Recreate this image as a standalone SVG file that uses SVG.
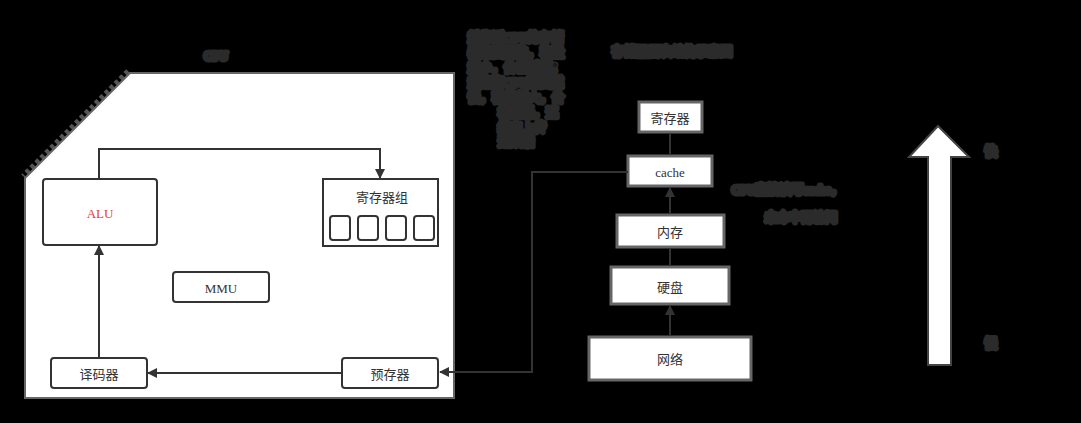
<svg xmlns="http://www.w3.org/2000/svg" width="1081" height="423" viewBox="0 0 1081 423">
<defs>
<style>
.t{font-family:"Liberation Serif","Noto Sans CJK SC",serif;font-size:13px;fill:#333;text-anchor:middle;dominant-baseline:central}
.box{fill:#fff;stroke:#333;stroke-width:2}
.sbox{fill:#fff;stroke:#666;stroke-width:3}
.ln{fill:none;stroke:#333;stroke-width:2}
.dim{font-family:"Liberation Serif","Noto Sans CJK SC",serif;font-size:12px;fill:#2b2b2b;stroke:#2b2b2b;stroke-width:5;stroke-linejoin:round}
</style>
<marker id="ah" viewBox="0 0 10 10" refX="9" refY="5" markerWidth="5" markerHeight="5" orient="auto">
<path d="M0,0 L10,5 L0,10 z" fill="#333"/>
</marker>
</defs>
<rect x="0" y="0" width="1081" height="423" fill="#000"/>

<g id="dim-labels">
<text class="dim" x="216" y="60" text-anchor="middle">CPU</text>
<text class="dim" x="468" y="42">越靠近CPU的存储</text>
<text class="dim" x="468" y="57">器速度越快，容量</text>
<text class="dim" x="468" y="72">越小，价格越高；</text>
<text class="dim" x="468" y="87">越远离CPU速度越</text>
<text class="dim" x="468" y="102">慢，容量越大，价</text>
<text class="dim" x="498" y="117">格越低，逐</text>
<text class="dim" x="498" y="132">级向上传</text>
<text class="dim" x="498" y="146">递数据</text>
<text class="dim" x="612" y="56">存储器层次结构示意图</text>
<text class="dim" x="732" y="194">CPU直接读写cache，</text>
<text class="dim" x="765" y="222">未命中再访问</text>
<text class="dim" x="985" y="156">快</text>
<text class="dim" x="985" y="348">慢</text>
</g>

<g id="cpu">
<path d="M128,71 L23,176" stroke="#555" stroke-width="5" stroke-dasharray="4 3" fill="none"/>
<path d="M130,73 L454,73 L454,398 L25,398 L25,178 Z" fill="#fff" stroke="#666" stroke-width="2"/>
</g>

<g id="alu">
<rect class="box" x="43" y="179" width="114" height="66" rx="3"/>
<text class="t" x="100" y="213" style="fill:#e03c31">ALU</text>
</g>

<g id="regs">
<rect class="box" x="323" y="179" width="115" height="67"/>
<text class="t" x="382" y="197">寄存器组</text>
<rect class="box" x="330" y="216" width="20" height="24" rx="3"/>
<rect class="box" x="358" y="216" width="20" height="24" rx="3"/>
<rect class="box" x="386" y="216" width="20" height="24" rx="3"/>
<rect class="box" x="414" y="216" width="20" height="24" rx="3"/>
</g>

<g id="mmu">
<rect class="box" x="173" y="272" width="96" height="30" rx="3"/>
<text class="t" x="221" y="288">MMU</text>
</g>

<g id="decoder">
<rect class="box" x="51" y="358" width="96" height="30" rx="3"/>
<text class="t" x="99" y="374">译码器</text>
</g>

<g id="prefetch">
<rect class="box" x="342" y="358" width="96" height="30" rx="3"/>
<text class="t" x="390" y="374">预存器</text>
</g>

<g id="s-reg">
<rect class="sbox" x="639" y="102" width="63" height="30"/>
<text class="t" x="670" y="118">寄存器</text>
</g>
<g id="s-cache">
<rect class="sbox" x="628" y="156" width="84" height="30"/>
<text class="t" x="670" y="172">cache</text>
</g>
<g id="s-mem">
<rect class="sbox" x="617" y="215" width="107" height="32"/>
<text class="t" x="670" y="232">内存</text>
</g>
<g id="s-disk">
<rect class="sbox" x="611" y="267" width="118" height="37"/>
<text class="t" x="670" y="287">硬盘</text>
</g>
<g id="s-net">
<rect class="sbox" x="589" y="337" width="162" height="43"/>
<text class="t" x="670" y="359">网络</text>
</g>

<g id="big-arrow">
<path d="M928,365 L951,365 L951,157 L969,157 L938,126 L909,157 L928,157 Z" fill="#fff" stroke="#444" stroke-width="2"/>
</g>

<g id="connectors">
<path class="ln" d="M99,178 L99,149 L380,149 L380,178" marker-end="url(#ah)"/>
<path class="ln" d="M99,358 L99,246" marker-end="url(#ah)"/>
<path class="ln" d="M342,373 L148,373" marker-end="url(#ah)"/>
<path class="ln" d="M628,172 L532,172 L532,372 L440,372" stroke-width="4" marker-end="url(#ah)"/>
<path class="ln" d="M670,134 L670,155" stroke-width="3"/>
<path class="ln" d="M670,214 L670,188" stroke-width="3" marker-end="url(#ah)"/>
<path class="ln" d="M670,266 L670,249" stroke-width="3"/>
<path class="ln" d="M670,336 L670,306" stroke-width="3" marker-end="url(#ah)"/>
</g>
</svg>
